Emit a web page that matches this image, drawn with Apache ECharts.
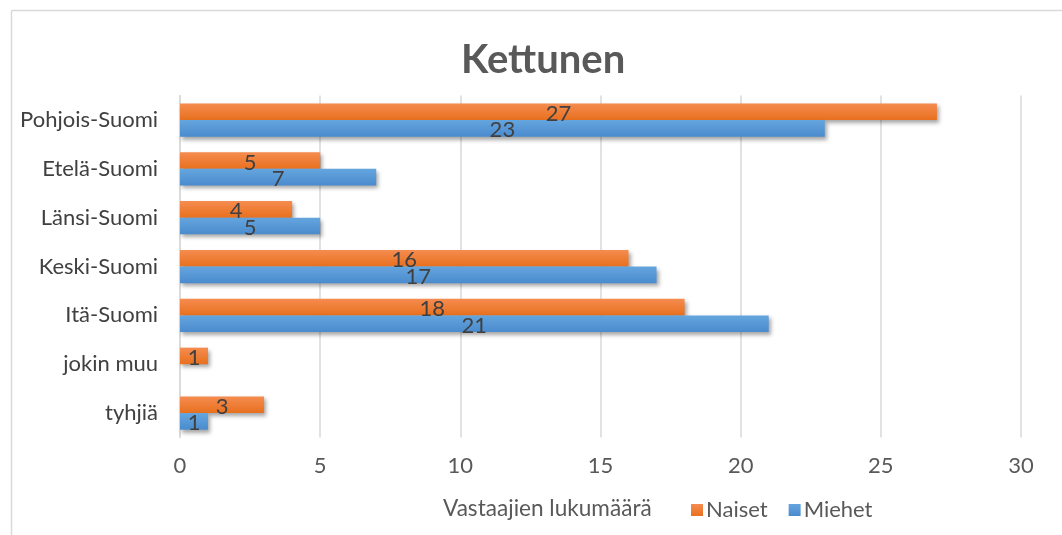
<!DOCTYPE html>
<html>
<head>
<meta charset="utf-8">
<script src="https://cdn.jsdelivr.net/npm/echarts@6/dist/echarts.min.js"></script>
<style>
html,body{margin:0;padding:0;background:#fff;}
#chart{width:1062px;height:535px;}
</style>
</head>
<body>
<div id="chart"></div>
<script>
const categories = ['Pohjois-Suomi', 'Etelä-Suomi', 'Länsi-Suomi', 'Keski-Suomi', 'Itä-Suomi', 'jokin muu', 'tyhjiä'];
const naiset = [27, 5, 4, 16, 18, 1, 3];
const miehet = [23, 7, 5, 17, 21, null, 1];
const xTicks = [0, 5, 10, 15, 20, 25, 30];
const titleText = 'Kettunen';
const axisName = 'Vastaajien lukumäärä';

const FONT = 'Lato';
const FS = 22;
const chart = echarts.init(document.getElementById('chart'));

function grad(top, bottom) {
  return new echarts.graphic.LinearGradient(0, 0, 0, 1, [
    { offset: 0, color: top },
    { offset: 1, color: bottom }
  ]);
}
const labelCfg = {
  show: true,
  position: 'inside',
  color: '#404040',
  fontFamily: FONT,
  fontSize: FS,
  offset: [0, 2]
};
const shadow = { shadowBlur: 4, shadowOffsetX: 2, shadowOffsetY: 3, shadowColor: 'rgba(0,0,0,0.35)' };

chart.setOption({
  animation: false,
  title: {
    text: titleText,
    left: 456,
    top: 35,
    textStyle: { fontFamily: FONT, fontWeight: 'bold', fontSize: 40, color: '#595959' }
  },
  legend: {
    data: ['Naiset', 'Miehet'],
    left: 686,
    top: 494,
    itemWidth: 12,
    itemHeight: 12,
    itemGap: 21,
    icon: 'rect',
    textStyle: { fontFamily: FONT, fontSize: FS, color: '#595959', padding: [0, 0, 0, -2] }
  },
  grid: { left: 180, right: 41, top: 95.6, bottom: 97.5, containLabel: false },
  xAxis: {
    type: 'value',
    min: 0,
    max: 30,
    interval: 5,
    axisLine: { show: false },
    axisTick: { show: false },
    splitLine: { lineStyle: { color: '#d9d9d9', width: 1.5 } },
    axisLabel: {
      fontFamily: FONT, fontSize: FS, color: '#595959', margin: 17,
      formatter: v => xTicks.includes(v) ? String(v) : ''
    }
  },
  yAxis: {
    type: 'category',
    data: categories,
    inverse: true,
    axisLine: { show: true, lineStyle: { color: '#d9d9d9', width: 1.5 } },
    axisTick: { show: false },
    axisLabel: { fontFamily: FONT, fontSize: FS, color: '#404040', margin: 22 }
  },
  series: [
    {
      name: 'Naiset',
      type: 'bar',
      data: naiset,
      barGap: '0%',
      barCategoryGap: '32%',
      itemStyle: Object.assign({ color: grad('#F58C50', '#E8701E') }, shadow),
      label: labelCfg
    },
    {
      name: 'Miehet',
      type: 'bar',
      data: miehet,
      itemStyle: Object.assign({ color: grad('#65A5DE', '#4A8BCE') }, shadow),
      label: labelCfg
    }
  ],
  graphic: [
    { type: 'line', shape: { x1: 11.5, y1: 10.5, x2: 1062, y2: 10.5 }, style: { stroke: '#d9d9d9', lineWidth: 1.5 } },
    { type: 'line', shape: { x1: 11.5, y1: 10.5, x2: 11.5, y2: 535 }, style: { stroke: '#d9d9d9', lineWidth: 1.5 } },
    { type: 'text', left: 443, top: 497, style: { text: axisName, fontFamily: FONT, fontSize: 22.6, fill: '#595959' } }
  ]
});
</script>
</body>
</html>
